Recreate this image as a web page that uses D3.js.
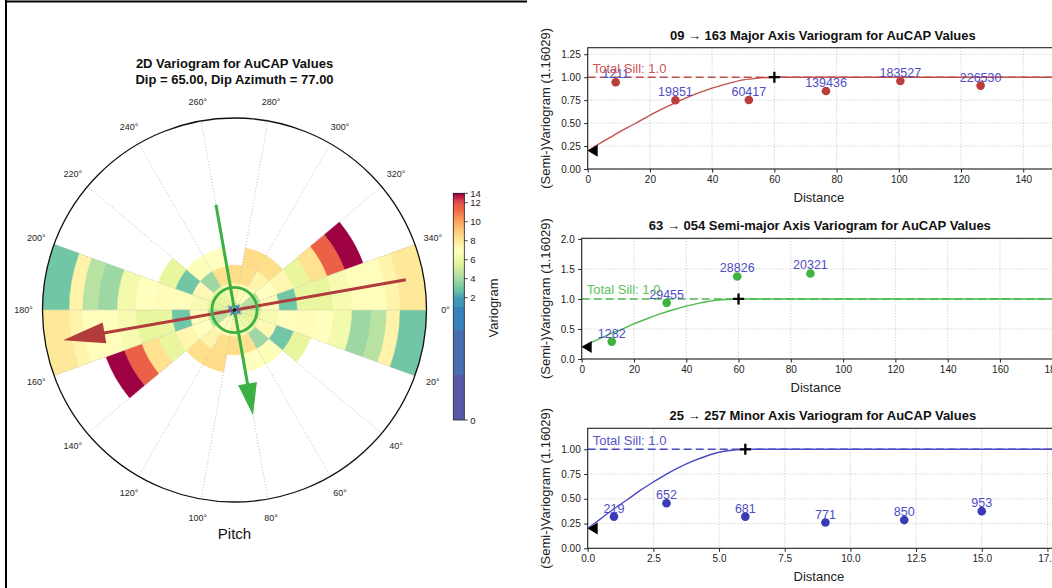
<!DOCTYPE html>
<html>
<head>
<meta charset="utf-8">
<script src="https://cdn.jsdelivr.net/npm/d3@7"></script>
<style>
  html, body { margin: 0; padding: 0; background: #ffffff; }
  svg { display: block; font-family: "Liberation Sans", Arial, Helvetica, sans-serif; }
</style>
</head>
<body>
<svg id="chart" width="1052" height="588"></svg>
<script>
// ---------------------------------------------------------------
// 2D variogram map (pitch plane) — angular bins of 20°, lag rings
// ---------------------------------------------------------------
const angleBinStarts = [0, 20, 40, 60, 80, 100, 120, 140, 160];   // degrees, each bin also drawn at +180
const angleBinWidth = 20;
const lagEdges = [0, 7.5, 22.5, 37.5, 52.5, 67.5, 82.5, 98, 114, 127, 138, 160];
const lagMax = 160;
// variogram value per angular bin (rows) and lag ring (columns); null = no pairs
const mapValues = [
  [5.0, 5.5, 6.5, 7.1, 7.2, 7.0, 6.3, 3.9, 4.5, 7.6, 3.0],      //   0–20
  [5.0, 5.8, 7.3, 3.0, 5.8, null, null, null, null, null, null],  //  20–40
  [5.5, 6.0, 3.9, 6.8, null, null, null, null, null, null, null], //  40–60
  [6.0, 6.5, 8.3, 7.0, null, null, null, null, null, null, null], //  60–80
  [6.5, 7.5, 8.5, null, null, null, null, null, null, null, null],//  80–100
  [6.5, 7.2, 8.4, 8.5, null, null, null, null, null, null, null], // 100–120
  [5.5, 6.8, 7.5, 8.4, null, null, null, null, null, null, null], // 120–140
  [5.0, 4.5, 7.0, 7.4, 5.8, 8.3, 11.6, 14.0, null, null, null],   // 140–160
  [5.0, 4.5, 7.2, 3.0, 5.9, 5.8, 6.5, 7.1, 7.1, 7.5, 8.0]         // 160–180
];
const pitchTicks = [0, 20, 40, 60, 80, 100, 120, 140, 160, 180, 200, 220, 240, 260, 280, 300, 320, 340];
const colorbarTicks = [0, 2, 4, 6, 8, 10, 12, 14];
const colorbarBands = [0, 0.5, 1.0, 1.5, 2.0];
// continuity axes drawn on the map: [pitch of head, length in lag units]
const majorArrow = { pitch: 170, length: 145 };
const semiArrow  = { pitch: 80,  length: 89 };
const rangeCircleLag = 18.8;

// ---------------------------------------------------------------
// Directional variograms
// ---------------------------------------------------------------
const majorLag   = [9.0, 28.2, 51.8, 76.6, 100.5, 126.3];
const majorGamma = [0.945, 0.749, 0.752, 0.850, 0.959, 0.908];
const majorPairs = ["1211", "19851", "60417", "139436", "183527", "226530"];
const majorModelDist  = [0, 5, 10, 15, 20, 25, 30, 35, 40, 45, 50, 55, 60, 160];
const majorModelGamma = [0.20, 0.30, 0.40, 0.49, 0.585, 0.67, 0.75, 0.82, 0.88, 0.93, 0.97, 0.99, 1.0, 1.0];
const majorXTicks = [0, 20, 40, 60, 80, 100, 120, 140];
const majorYTicks = [0, 0.25, 0.5, 0.75, 1.0, 1.25];

const semiLag   = [11.5, 32.5, 59.5, 87.5];
const semiGamma = [0.29, 0.935, 1.375, 1.425];
const semiPairs = ["1282", "29455", "28826", "20321"];
const semiModelDist  = [0, 5, 10, 15, 20, 25, 30, 35, 40, 45, 50, 55, 60, 200];
const semiModelGamma = [0.20, 0.30, 0.40, 0.49, 0.585, 0.67, 0.75, 0.82, 0.88, 0.93, 0.97, 0.99, 1.0, 1.0];
const semiXTicks = [0, 20, 40, 60, 80, 100, 120, 140, 160, 180];
const semiYTicks = [0, 0.5, 1.0, 1.5, 2.0];

const minorLag   = [1.0, 3.0, 6.0, 9.05, 12.05, 15.0];
const minorGamma = [0.32, 0.455, 0.32, 0.26, 0.285, 0.375];
const minorPairs = ["219", "652", "681", "771", "850", "953"];
const minorModelDist  = [0, 0.5, 1.0, 1.5, 2.0, 2.5, 3.0, 3.5, 4.0, 4.5, 5.0, 5.5, 6.0, 20];
const minorModelGamma = [0.20, 0.30, 0.40, 0.49, 0.585, 0.67, 0.75, 0.82, 0.88, 0.93, 0.97, 0.99, 1.0, 1.0];
const minorXTicks = [0, 2.5, 5.0, 7.5, 10.0, 12.5, 15.0, 17.5];
const minorYTicks = [0, 0.25, 0.5, 0.75, 1.0];

const nugget = 0.2, totalSill = 1.0;

// ---------------------------------------------------------------
const svg = d3.select("#chart");
const FONT = '"Liberation Sans", Arial, Helvetica, sans-serif';

// Spectral_r colour map (ColorBrewer Spectral, reversed), value range 0–14
const spectral = ["#5e4fa2", "#3288bd", "#66c2a5", "#abdda4", "#e6f598", "#ffffbf",
                  "#fee08b", "#fdae61", "#f46d43", "#d53e4f", "#9e0142"];
const color = d3.scaleLinear()
  .domain(d3.range(spectral.length).map(i => i * 14 / (spectral.length - 1)))
  .range(spectral)
  .interpolate(d3.interpolateRgb)
  .clamp(true);

// figure frame on the left panel
svg.append("line").attr("x1", 6).attr("x2", 6).attr("y1", 0).attr("y2", 588)
  .attr("stroke", "#000").attr("stroke-width", 2);
svg.append("line").attr("x1", 5).attr("x2", 527).attr("y1", 1.5).attr("y2", 1.5)
  .attr("stroke", "#000").attr("stroke-width", 2);

// ---------------------------- polar map ----------------------------
const cx = 234.5, cy = 310, R = 192;
const rScale = d3.scaleLinear().domain([0, lagMax]).range([0, R]);
const rad = deg => deg * Math.PI / 180;
const arc = d3.arc();

const polar = svg.append("g").attr("transform", `translate(${cx},${cy})`);

const cells = [];
angleBinStarts.forEach((a0, i) => {
  mapValues[i].forEach((v, k) => {
    if (v == null) return;
    [0, 180].forEach(off => cells.push({
      a0: a0 + off, a1: a0 + off + angleBinWidth,
      r0: lagEdges[k], r1: lagEdges[k + 1], v
    }));
  });
});

polar.append("g").selectAll("path").data(cells).join("path")
  .attr("d", d => arc({
    innerRadius: rScale(d.r0),
    outerRadius: Math.min(R, rScale(d.r1)),
    startAngle: rad(d.a0 + 90),
    endAngle: rad(d.a1 + 90)
  }))
  .attr("fill", d => color(d.v))
  .attr("stroke", d => color(d.v))
  .attr("stroke-width", 0.5);

// angular grid
polar.append("g").selectAll("line").data(pitchTicks).join("line")
  .attr("x1", 0).attr("y1", 0)
  .attr("x2", d => R * Math.cos(rad(d)))
  .attr("y2", d => R * Math.sin(rad(d)))
  .attr("stroke", "#b8b8b8").attr("stroke-width", 0.9)
  .attr("stroke-dasharray", "1,2");

polar.append("circle").attr("r", R).attr("fill", "none")
  .attr("stroke", "#111").attr("stroke-width", 1.3);

polar.append("g").selectAll("text").data(pitchTicks).join("text")
  .attr("x", d => 211 * Math.cos(rad(d)))
  .attr("y", d => 211 * Math.sin(rad(d)))
  .attr("text-anchor", "middle").attr("dominant-baseline", "central")
  .attr("font-size", 9).attr("fill", "#262626")
  .text(d => d + "°");

// continuity arrows
function drawArrow(a, col, headLen, headHalf) {
  const L = rScale(a.length);
  const ux = Math.cos(rad(a.pitch)), uy = Math.sin(rad(a.pitch));
  const tip = [L * ux, L * uy];
  const tail = [-L * ux, -L * uy];
  const base = [tip[0] - headLen * ux, tip[1] - headLen * uy];
  polar.append("line")
    .attr("x1", tail[0]).attr("y1", tail[1])
    .attr("x2", base[0] + 2 * ux).attr("y2", base[1] + 2 * uy)
    .attr("stroke", col).attr("stroke-width", 3);
  const px = -uy, py = ux;
  polar.append("path")
    .attr("d", `M${tip[0]},${tip[1]} L${base[0] + headHalf * px},${base[1] + headHalf * py} L${base[0] - headHalf * px},${base[1] - headHalf * py} Z`)
    .attr("fill", col);
}
drawArrow(majorArrow, "#b23b3b", 42, 10.5);
drawArrow(semiArrow, "#3cb043", 32, 9.5);

polar.append("circle").attr("r", rScale(rangeCircleLag)).attr("fill", "none")
  .attr("stroke", "#3cb043").attr("stroke-width", 2.8);

// minor axis (normal to the plane) at the origin
const star = polar.append("g");
[[-4, -2], [3, -3], [-2, 3], [4, 2]].forEach(([dx, dy]) => {
  star.append("path").attr("d", `M${dx - 2},${dy - 2}L${dx + 2},${dy + 2}M${dx - 2},${dy + 2}L${dx + 2},${dy - 2}`)
    .attr("stroke", "#3a6fc4").attr("stroke-width", 1.2);
});
polar.append("circle").attr("r", 1.8).attr("fill", "#111");

// titles
svg.append("text").attr("x", cx).attr("y", 68).attr("text-anchor", "middle")
  .attr("font-size", 13).attr("font-weight", "bold").attr("fill", "#111")
  .text("2D Variogram for AuCAP Values");
svg.append("text").attr("x", cx).attr("y", 84).attr("text-anchor", "middle")
  .attr("font-size", 13).attr("font-weight", "bold").attr("fill", "#111")
  .text("Dip = 65.00, Dip Azimuth = 77.00");
svg.append("text").attr("x", cx).attr("y", 538.5).attr("text-anchor", "middle")
  .attr("font-size", 15).attr("fill", "#111").text("Pitch");

// ---------------------------- colorbar ----------------------------
const cbX = 453.3, cbW = 11;
const cbY = d3.scaleLinear()
  .domain([0, 0.5, 1.0, 1.5, 2, 12, 14])
  .range([420, 375, 330, 307, 297.7, 202.7, 193.3]);
const cb = svg.append("g");
// stepped lower bands
cb.selectAll("rect.low").data(d3.pairs(colorbarBands)).join("rect")
  .attr("x", cbX).attr("width", cbW)
  .attr("y", d => cbY(d[1])).attr("height", d => cbY(d[0]) - cbY(d[1]))
  .attr("fill", d => color((d[0] + d[1]) / 2));
// continuous upper part
const fine = d3.range(2, 14, 0.05);
cb.selectAll("rect.hi").data(fine).join("rect")
  .attr("x", cbX).attr("width", cbW)
  .attr("y", d => cbY(Math.min(14, d + 0.05)) - 0.3)
  .attr("height", d => cbY(d) - cbY(Math.min(14, d + 0.05)) + 0.6)
  .attr("fill", d => color(d + 0.025));
cb.append("rect").attr("x", cbX).attr("y", cbY(14)).attr("width", cbW)
  .attr("height", cbY(0) - cbY(14)).attr("fill", "none")
  .attr("stroke", "#222").attr("stroke-width", 0.8);
cb.selectAll("line.tk").data(colorbarTicks).join("line")
  .attr("x1", cbX + cbW).attr("x2", cbX + cbW + 3.5)
  .attr("y1", d => cbY(d)).attr("y2", d => cbY(d))
  .attr("stroke", "#222").attr("stroke-width", 0.8);
cb.selectAll("text").data(colorbarTicks).join("text")
  .attr("x", cbX + cbW + 6).attr("y", d => cbY(d))
  .attr("dominant-baseline", "central").attr("font-size", 9.5).attr("fill", "#222")
  .text(d => d);
svg.append("text")
  .attr("transform", "translate(498,308) rotate(-90)")
  .attr("text-anchor", "middle").attr("font-size", 13).attr("fill", "#222")
  .text("Variogram");

// ---------------------------- variogram panels ----------------------------
let clipId = 0;
function variogramPanel(p) {
  const g = svg.append("g");
  const x = d3.scaleLinear().domain(p.xDomain).range([p.left, p.right]);
  const y = d3.scaleLinear().domain(p.yDomain).range([p.bottom, p.top]);
  const id = "clip" + (clipId++);
  g.append("clipPath").attr("id", id).append("rect")
    .attr("x", p.left).attr("y", p.top).attr("width", p.right - p.left).attr("height", p.bottom - p.top);

  // grid
  const grid = g.append("g").attr("stroke", "#b4b4b4").attr("stroke-width", 0.8).attr("stroke-dasharray", "1,2");
  grid.selectAll("line.gx").data(p.xTicks).join("line")
    .attr("x1", d => x(d)).attr("x2", d => x(d)).attr("y1", p.top).attr("y2", p.bottom);
  grid.selectAll("line.gy").data(p.yTicks).join("line")
    .attr("x1", p.left).attr("x2", p.right).attr("y1", d => y(d)).attr("y2", d => y(d));

  // axes with d3 axis generators
  const xAxis = d3.axisBottom(x).tickValues(p.xTicks).tickSize(3.5).tickPadding(3)
    .tickFormat(p.xFormat);
  const yAxis = d3.axisLeft(y).tickValues(p.yTicks).tickSize(3.5).tickPadding(3.5)
    .tickFormat(p.yFormat);
  const gx = g.append("g").attr("transform", `translate(0,${p.bottom})`).call(xAxis);
  const gy = g.append("g").attr("transform", `translate(${p.left},0)`).call(yAxis);
  [gx, gy].forEach(a => {
    a.select(".domain").remove();
    a.selectAll("text").attr("font-size", 10).attr("fill", "#222").attr("font-family", FONT);
    a.selectAll("line").attr("stroke", "#222");
  });

  const plot = g.append("g").attr("clip-path", `url(#${id})`);

  // total sill
  plot.append("line").attr("x1", p.left).attr("x2", p.right)
    .attr("y1", y(totalSill)).attr("y2", y(totalSill))
    .attr("stroke", p.lineColor).attr("stroke-width", 1.4).attr("stroke-dasharray", "8,4");

  // fitted model
  const line = d3.line().x((d, i) => x(p.modelDist[i])).y(d => y(d)).curve(d3.curveMonotoneX);
  plot.append("path").datum(p.modelGamma).attr("d", line)
    .attr("fill", "none").attr("stroke", p.lineColor).attr("stroke-width", 1.4);

  // experimental points
  plot.selectAll("circle").data(p.gamma).join("circle")
    .attr("cx", (d, i) => x(p.lag[i])).attr("cy", d => y(d)).attr("r", 4.3)
    .attr("fill", p.pointColor);

  // nugget marker
  const ny = y(nugget), nx = p.left;
  g.append("path").attr("d", `M${nx},${ny} L${nx + 10},${ny - 6} L${nx + 10},${ny + 6} Z`).attr("fill", "#000");
  // range marker
  const rx = x(p.range), ry = y(totalSill);
  g.append("path").attr("d", `M${rx - 5.5},${ry} H${rx + 5.5} M${rx},${ry - 5.5} V${ry + 5.5}`)
    .attr("stroke", "#000").attr("stroke-width", 2.3);

  // pair counts
  g.selectAll("text.pairs").data(p.pairs).join("text")
    .attr("x", (d, i) => x(p.lag[i])).attr("y", (d, i) => y(p.gamma[i]) - 4)
    .attr("text-anchor", "middle").attr("font-size", 12.5).attr("fill", "#4d4dc6")
    .text(d => d);

  g.append("text").attr("x", p.left + 5).attr("y", y(totalSill) - 4.5)
    .attr("font-size", 13).attr("fill", p.textColor).text("Total Sill: " + totalSill.toFixed(1));

  // frame
  g.append("rect").attr("x", p.left).attr("y", p.top)
    .attr("width", p.right - p.left).attr("height", p.bottom - p.top)
    .attr("fill", "none").attr("stroke", "#222").attr("stroke-width", 1.1);

  // labels
  g.append("text").attr("x", (p.left + p.right) / 2).attr("y", p.top - 8)
    .attr("text-anchor", "middle").attr("font-size", 13).attr("font-weight", "bold").attr("fill", "#111")
    .text(p.title);
  g.append("text").attr("x", (p.left + p.right) / 2 - 4).attr("y", p.bottom + 32.5)
    .attr("text-anchor", "middle").attr("font-size", 13).attr("fill", "#222").text("Distance");
  g.append("text").attr("transform", `translate(549.5,${(p.top + p.bottom) / 2}) rotate(-90)`)
    .attr("text-anchor", "middle").attr("font-size", 13).attr("fill", "#222")
    .text("(Semi-)Variogram (1.16029)");
}

const f2 = d3.format(".2f"), f1 = d3.format(".1f"), f0 = d3.format("d");

variogramPanel({
  title: "09 → 163 Major Axis Variogram for AuCAP Values",
  left: 587.7, right: 1058, top: 47.7, bottom: 169,
  xDomain: [0, (1058 - 587.7) / 3.111], yDomain: [0, 1.321],
  xTicks: majorXTicks, yTicks: majorYTicks, xFormat: f0, yFormat: f2,
  lag: majorLag, gamma: majorGamma, pairs: majorPairs,
  modelDist: majorModelDist, modelGamma: majorModelGamma, range: 60,
  pointColor: "#b83d3b", lineColor: "#c0504d", textColor: "#cc5555"
});

variogramPanel({
  title: "63 → 054 Semi-major Axis Variogram for AuCAP Values",
  left: 581.7, right: 1058, top: 238.3, bottom: 359,
  xDomain: [0, (1058 - 581.7) / 2.614], yDomain: [0, 2.01],
  xTicks: semiXTicks, yTicks: semiYTicks, xFormat: f0, yFormat: f1,
  lag: semiLag, gamma: semiGamma, pairs: semiPairs,
  modelDist: semiModelDist, modelGamma: semiModelGamma, range: 60,
  pointColor: "#3fb23f", lineColor: "#4cba4c", textColor: "#5cc25c"
});

variogramPanel({
  title: "25 → 257 Minor Axis Variogram for AuCAP Values",
  left: 587.7, right: 1058, top: 428.3, bottom: 548.3,
  xDomain: [0, (1058 - 587.7) / 26.27], yDomain: [0, 1.212],
  xTicks: minorXTicks, yTicks: minorYTicks, xFormat: f1, yFormat: f2,
  lag: minorLag, gamma: minorGamma, pairs: minorPairs,
  modelDist: minorModelDist, modelGamma: minorModelGamma, range: 6,
  pointColor: "#3a3ab6", lineColor: "#4a4ac4", textColor: "#5656c8"
});
</script>
</body>
</html>
